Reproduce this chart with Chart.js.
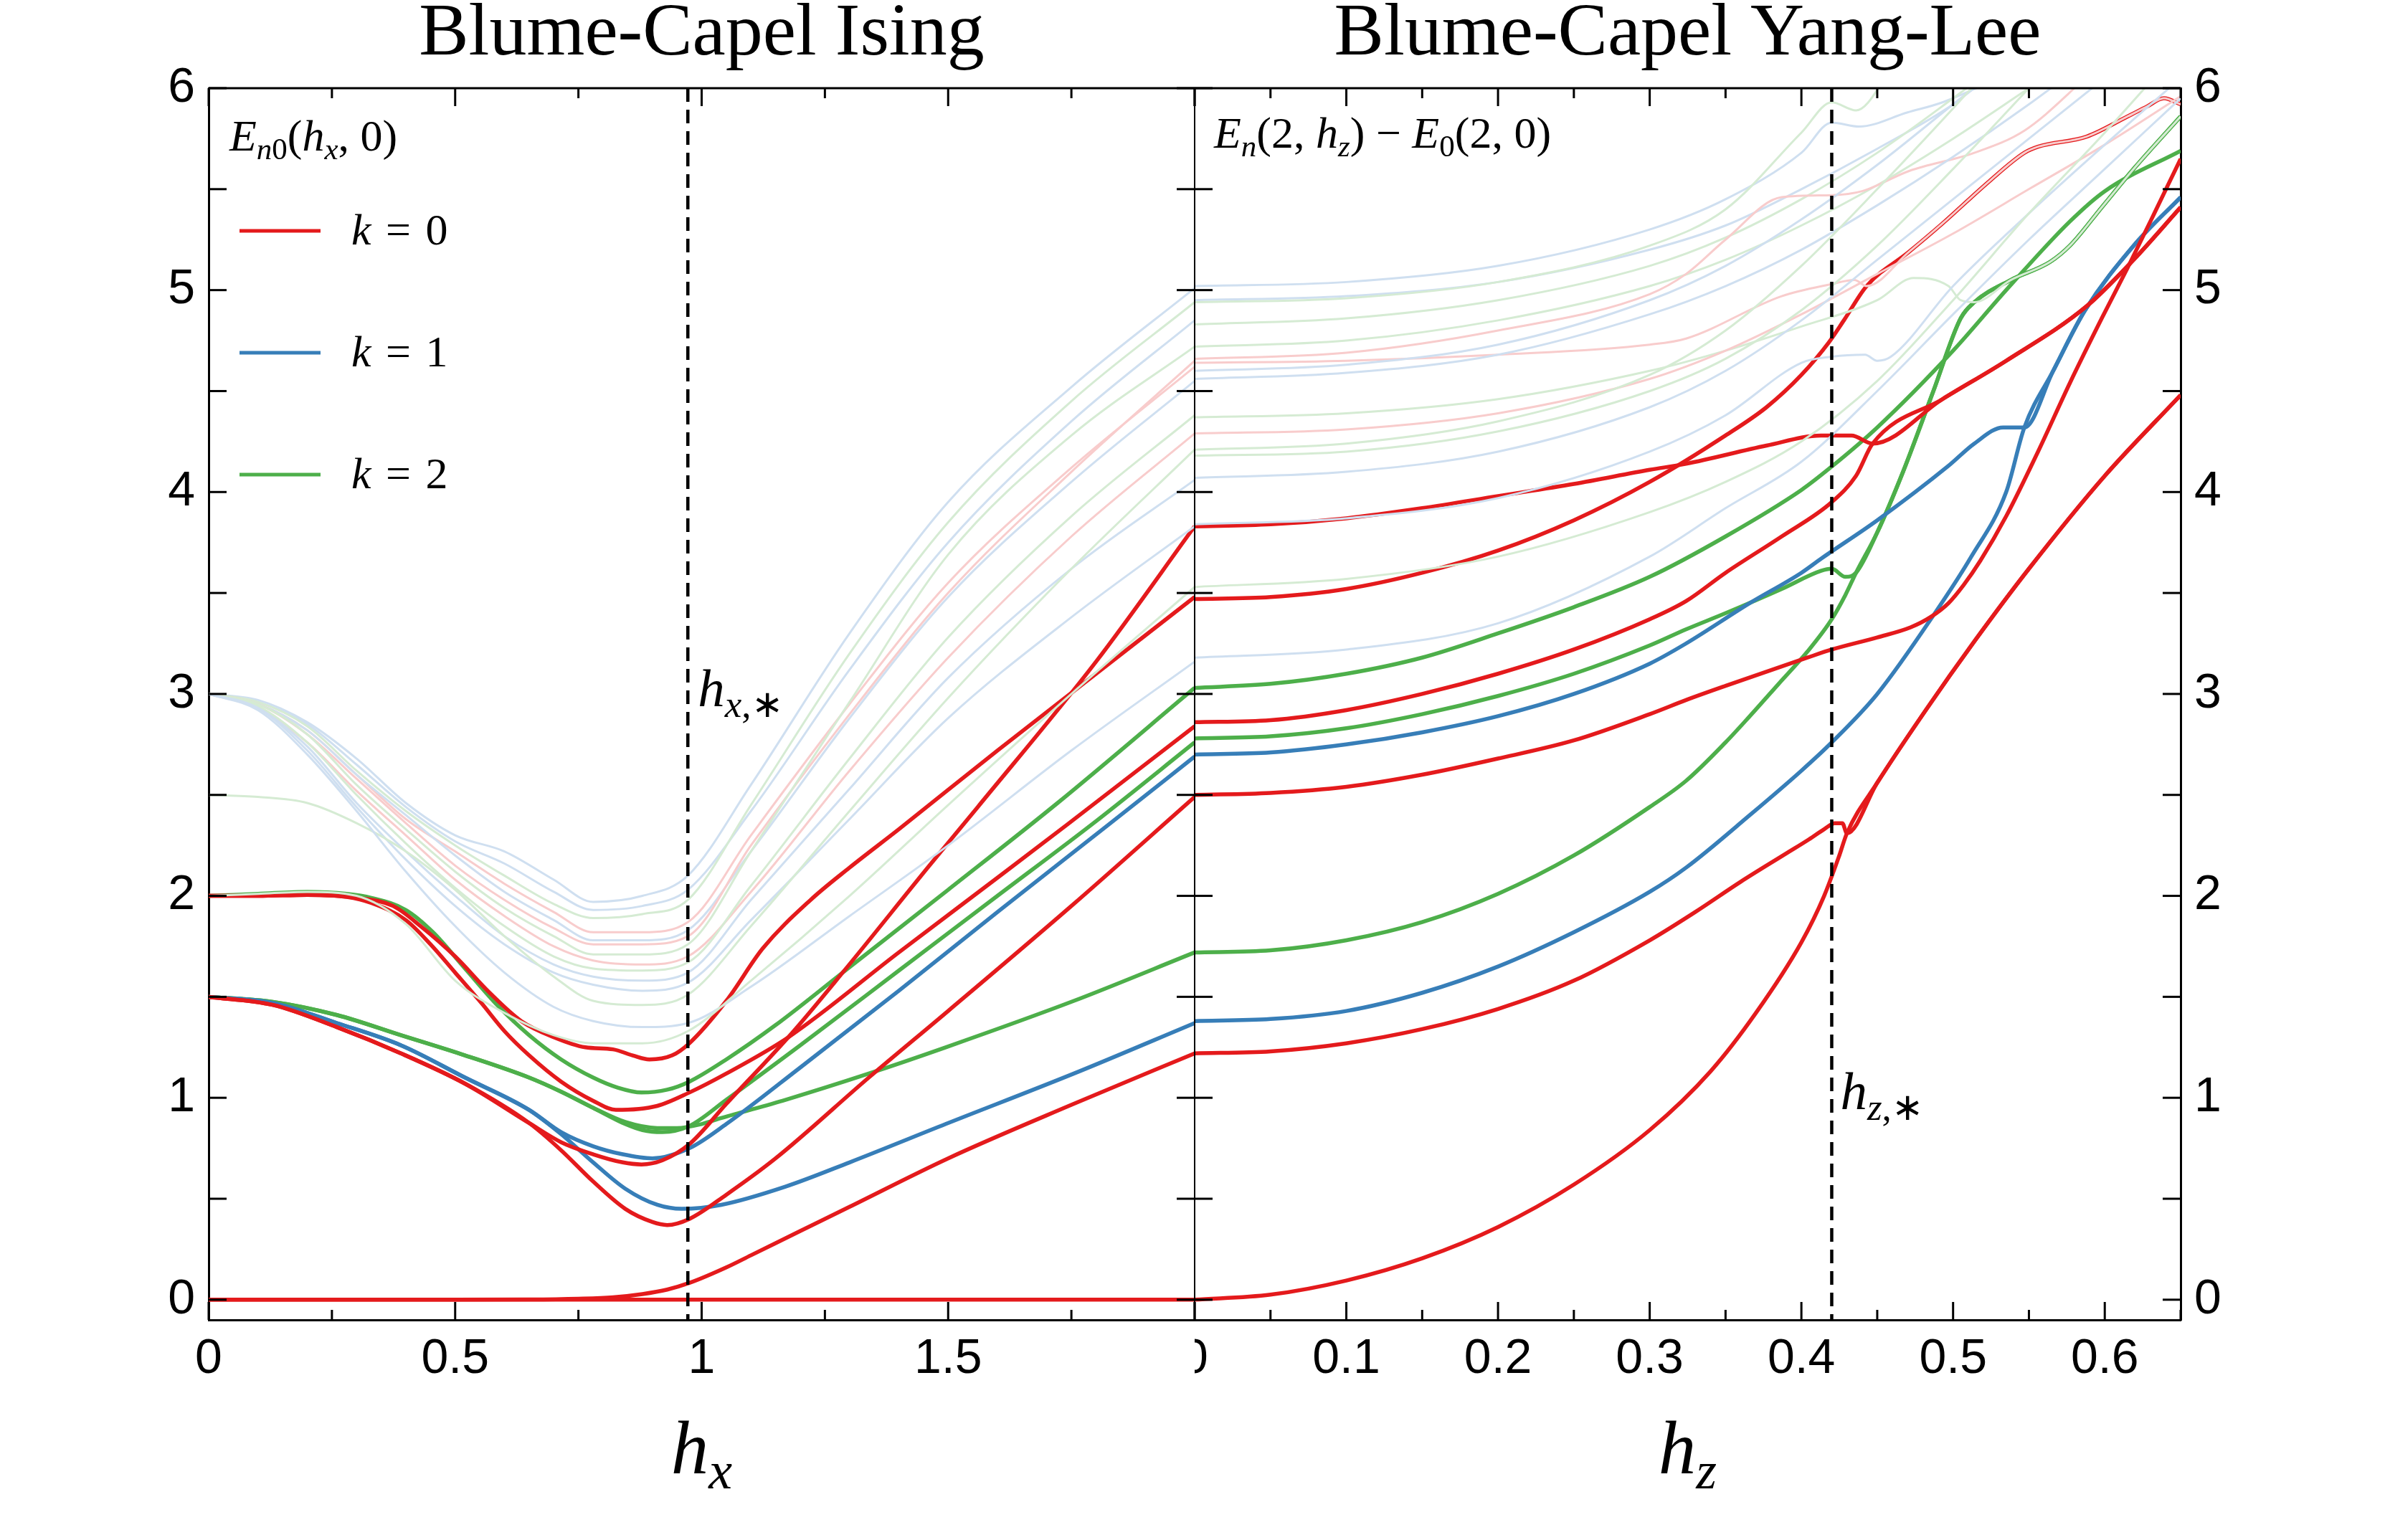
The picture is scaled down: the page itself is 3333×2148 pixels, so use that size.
<!DOCTYPE html>
<html>
<head>
<meta charset="utf-8">
<script src="https://cdn.jsdelivr.net/npm/chart.js@4.4.1/dist/chart.umd.min.js"></script>
<style>
  html, body { margin: 0; padding: 0; background: #fff; }
  canvas { display: block; }
</style>
</head>
<body>
<canvas id="spectrum" width="3333" height="2148"></canvas>
<script>
// critical fields
const hxStar = 0.972;
const hzStar = 0.42;

// ---- Blume-Capel Ising, E_n0(hx, 0): [hx, E] ----
const isingR0 = [[0, 0], [2, 0]];
const isingR1 = [[0,0],[0.5,0],[0.65,0.001],[0.75,0.005],[0.82,0.012],[0.88,0.028],[0.93,0.05],[0.975,0.083],[1.05,0.16],[1.1,0.22],[1.2,0.34],[1.3,0.46],[1.5,0.70],[1.75,0.965],[2,1.22]];
const isingR2 = [[0,1.5],[0.13,1.46],[0.26,1.35],[0.39,1.22],[0.52,1.07],[0.65,0.875],[0.715,0.74],[0.78,0.585],[0.845,0.45],[0.9,0.385],[0.93,0.37],[0.975,0.40],[1.05,0.52],[1.15,0.70],[1.339,1.10],[1.5,1.43],[1.75,1.95],[2,2.49]];
const isingR3 = [[0,2.0],[0.1,2.0],[0.2,2.005],[0.28,1.995],[0.33,1.965],[0.4,1.88],[0.45,1.76],[0.5,1.62],[0.553,1.47],[0.6,1.33],[0.65,1.21],[0.715,1.08],[0.78,0.985],[0.826,0.94],[0.91,0.96],[0.975,1.026],[1.05,1.12],[1.176,1.30],[1.4,1.72],[1.6,2.09],[1.742,2.354],[2,2.84]];
const isingR4 = [[0,2.0],[0.1,2.0],[0.2,2.005],[0.3,1.99],[0.374,1.95],[0.43,1.85],[0.5,1.70],[0.57,1.52],[0.634,1.38],[0.7,1.30],[0.764,1.25],[0.82,1.24],[0.86,1.21],[0.894,1.19],[0.94,1.21],[0.975,1.27],[1.05,1.48],[1.124,1.74],[1.221,1.98],[1.3,2.14],[1.4,2.33],[1.6,2.72],[1.8,3.10],[2,3.48]];
const isingR5 = [[0,1.5],[0.13,1.46],[0.26,1.35],[0.39,1.22],[0.52,1.07],[0.65,0.875],[0.715,0.78],[0.78,0.72],[0.84,0.68],[0.878,0.67],[0.92,0.69],[0.975,0.77],[1.05,0.97],[1.183,1.32],[1.286,1.62],[1.462,2.15],[1.56,2.44],[1.8,3.16],[2,3.83]];
const isingB1 = [[0,1.5],[0.13,1.47],[0.26,1.37],[0.39,1.26],[0.52,1.10],[0.65,0.94],[0.715,0.82],[0.78,0.68],[0.845,0.55],[0.91,0.47],[0.96,0.45],[1.04,0.47],[1.17,0.56],[1.3,0.68],[1.495,0.87],[1.755,1.12],[2,1.37]];
const isingB2 = [[0,1.5],[0.13,1.47],[0.26,1.37],[0.39,1.26],[0.52,1.10],[0.65,0.94],[0.715,0.83],[0.78,0.76],[0.84,0.72],[0.9,0.70],[0.975,0.75],[1.05,0.87],[1.2,1.15],[1.4,1.53],[1.6,1.92],[1.826,2.354],[2,2.69]];
const isingG1 = [[0,1.5],[0.13,1.475],[0.26,1.41],[0.39,1.31],[0.52,1.21],[0.65,1.10],[0.715,1.03],[0.78,0.95],[0.845,0.88],[0.91,0.85],[0.95,0.85],[1.0,0.87],[1.04,0.90],[1.17,0.99],[1.339,1.12],[1.495,1.25],[1.755,1.48],[2,1.72]];
const isingG2 = [[0,1.5],[0.13,1.475],[0.26,1.41],[0.39,1.31],[0.52,1.21],[0.65,1.10],[0.715,1.03],[0.78,0.95],[0.845,0.87],[0.88,0.84],[0.92,0.83],[0.975,0.86],[1.05,0.99],[1.2,1.26],[1.4,1.63],[1.6,2.0],[1.8,2.37],[2,2.76]];
const isingG3 = [[0,2.0],[0.1,2.01],[0.2,2.02],[0.28,2.01],[0.33,1.99],[0.4,1.93],[0.455,1.82],[0.52,1.64],[0.585,1.46],[0.65,1.31],[0.715,1.19],[0.78,1.10],[0.83,1.05],[0.878,1.026],[0.93,1.04],[0.975,1.08],[1.05,1.19],[1.15,1.36],[1.286,1.62],[1.5,2.03],[1.722,2.46],[2,3.03]];

// faint higher levels, sampled on a common hx grid
const isingFaintX = [0, 0.1, 0.2, 0.3, 0.4, 0.5, 0.6, 0.7, 0.78, 0.88, 0.972, 1.1, 1.3, 1.5, 1.75, 2];
const isingF1 = [2.0, 2.01, 2.02, 2.0, 1.86, 1.58, 1.42, 1.31, 1.27, 1.27, 1.33, 1.58, 2.0, 2.45, 3.0, 3.53];
const isingF2 = [3.0, 2.92, 2.70, 2.42, 2.12, 1.85, 1.62, 1.45, 1.38, 1.35, 1.37, 1.55, 1.90, 2.25, 2.72, 3.16];
const isingF3 = [2.5, 2.49, 2.46, 2.36, 2.22, 2.03, 1.80, 1.60, 1.48, 1.46, 1.51, 1.85, 2.42, 2.98, 3.62, 4.21];
const isingF4 = [3.0, 2.93, 2.72, 2.44, 2.18, 1.95, 1.76, 1.62, 1.56, 1.53, 1.57, 1.88, 2.38, 2.88, 3.38, 3.83];
const isingF5 = [3.0, 2.93, 2.74, 2.46, 2.22, 2.0, 1.80, 1.66, 1.60, 1.58, 1.62, 1.98, 2.53, 3.08, 3.62, 4.06];
const isingF6 = [3.0, 2.94, 2.76, 2.50, 2.26, 2.04, 1.85, 1.70, 1.64, 1.63, 1.67, 2.05, 2.68, 3.28, 3.88, 4.38];
const isingF7 = [3.0, 2.93, 2.76, 2.52, 2.30, 2.08, 1.90, 1.75, 1.68, 1.66, 1.70, 2.02, 2.62, 3.18, 3.78, 4.29];
const isingF8 = [3.0, 2.95, 2.80, 2.55, 2.33, 2.12, 1.94, 1.80, 1.71, 1.71, 1.76, 2.22, 2.96, 3.69, 4.28, 4.72];
const isingF9 = [3.0, 2.95, 2.80, 2.58, 2.36, 2.15, 1.98, 1.84, 1.76, 1.76, 1.80, 2.25, 2.90, 3.50, 4.10, 4.65];
const isingF10 = [3.0, 2.95, 2.82, 2.60, 2.40, 2.20, 2.02, 1.88, 1.78, 1.78, 1.83, 2.22, 2.88, 3.48, 4.05, 4.55];
const isingF11 = [3.0, 2.95, 2.82, 2.60, 2.38, 2.22, 2.06, 1.92, 1.82, 1.82, 1.87, 2.30, 2.95, 3.55, 4.12, 4.62];
const isingF12 = [3.0, 2.96, 2.84, 2.62, 2.42, 2.25, 2.10, 1.96, 1.89, 1.91, 1.98, 2.45, 3.20, 3.85, 4.45, 4.94];
const isingF13 = [3.0, 2.96, 2.85, 2.65, 2.44, 2.27, 2.16, 2.02, 1.93, 1.95, 2.03, 2.42, 3.12, 3.75, 4.35, 4.85];
const isingF14 = [3.0, 2.97, 2.86, 2.68, 2.46, 2.30, 2.22, 2.08, 1.97, 2.0, 2.10, 2.55, 3.30, 3.95, 4.52, 5.01];

// ---- Blume-Capel Yang-Lee, E_n(2, hz) - E_0(2, 0): [hz, E] ----
const ylR0 = [[0,0],[0.05,0.025],[0.1,0.095],[0.15,0.205],[0.2,0.36],[0.25,0.57],[0.3,0.84],[0.34,1.13],[0.37,1.42],[0.4,1.77],[0.415,2.0],[0.425,2.2],[0.43,2.31],[0.45,2.56],[0.482,2.92],[0.514,3.26],[0.55,3.62],[0.6,4.08],[0.65,4.48]];
const ylR1 = [[0,1.22],[0.05,1.23],[0.1,1.27],[0.15,1.34],[0.2,1.44],[0.25,1.58],[0.3,1.78],[0.33,1.92],[0.36,2.07],[0.39,2.21],[0.405,2.28],[0.415,2.33],[0.422,2.36],[0.427,2.36],[0.43,2.31],[0.45,2.56],[0.482,2.92],[0.514,3.26],[0.55,3.62],[0.6,4.08],[0.65,4.48]];
const ylR2 = [[0,2.5],[0.05,2.51],[0.1,2.54],[0.15,2.6],[0.2,2.68],[0.25,2.77],[0.3,2.9],[0.324,2.97],[0.35,3.04],[0.404,3.18],[0.42,3.22],[0.45,3.28],[0.472,3.33],[0.485,3.38],[0.497,3.45],[0.507,3.54],[0.518,3.66],[0.535,3.88],[0.556,4.2],[0.577,4.54],[0.598,4.86],[0.615,5.11],[0.632,5.37],[0.65,5.65]];
const ylR3 = [[0,2.86],[0.05,2.87],[0.1,2.92],[0.15,3.0],[0.2,3.1],[0.25,3.22],[0.3,3.37],[0.324,3.46],[0.35,3.6],[0.387,3.78],[0.42,3.95],[0.436,4.08],[0.447,4.24],[0.493,4.46],[0.535,4.65],[0.588,4.92],[0.619,5.15],[0.65,5.41]];
const ylR4 = [[0,3.47],[0.05,3.48],[0.1,3.52],[0.15,3.6],[0.2,3.71],[0.25,3.86],[0.3,4.05],[0.35,4.28],[0.377,4.42],[0.4,4.58],[0.418,4.74],[0.428,4.85],[0.443,5.02],[0.471,5.19],[0.493,5.33],[0.524,5.54],[0.547,5.68],[0.556,5.71],[0.588,5.76],[0.615,5.86],[0.628,5.91],[0.639,5.95],[0.65,5.92]];
const ylR5 = [[0,3.83],[0.05,3.84],[0.1,3.87],[0.15,3.92],[0.2,3.98],[0.25,4.04],[0.3,4.11],[0.324,4.14],[0.377,4.23],[0.413,4.28],[0.433,4.28],[0.447,4.24],[0.493,4.46],[0.535,4.65],[0.588,4.92],[0.619,5.15],[0.65,5.41]];
const ylB1 = [[0,1.38],[0.05,1.39],[0.1,1.43],[0.15,1.52],[0.2,1.65],[0.25,1.82],[0.3,2.02],[0.324,2.14],[0.366,2.40],[0.4,2.62],[0.42,2.76],[0.45,3.0],[0.488,3.40],[0.512,3.68],[0.535,4.0],[0.547,4.32],[0.566,4.6],[0.587,4.9],[0.619,5.22],[0.65,5.46]];
const ylB2 = [[0,2.70],[0.05,2.71],[0.1,2.75],[0.15,2.81],[0.2,2.89],[0.25,3.0],[0.3,3.15],[0.324,3.25],[0.366,3.45],[0.4,3.6],[0.413,3.67],[0.45,3.86],[0.497,4.13],[0.514,4.24],[0.533,4.32],[0.547,4.32],[0.566,4.6],[0.587,4.9],[0.619,5.22],[0.65,5.46]];
const ylG1 = [[0,1.72],[0.05,1.73],[0.1,1.78],[0.15,1.87],[0.2,2.01],[0.25,2.2],[0.3,2.44],[0.324,2.57],[0.35,2.76],[0.366,2.89],[0.385,3.05],[0.404,3.21],[0.42,3.37],[0.429,3.49],[0.436,3.60],[0.45,3.80],[0.467,4.1],[0.487,4.5],[0.505,4.86],[0.514,4.94],[0.538,5.05],[0.564,5.14],[0.577,5.22],[0.598,5.41],[0.619,5.60],[0.65,5.86]];
const ylG2 = [[0,2.78],[0.05,2.79],[0.1,2.83],[0.15,2.9],[0.2,2.99],[0.25,3.1],[0.3,3.24],[0.324,3.32],[0.35,3.40],[0.387,3.52],[0.413,3.61],[0.42,3.62],[0.429,3.58],[0.436,3.60],[0.45,3.80],[0.467,4.1],[0.487,4.5],[0.505,4.86],[0.514,4.94],[0.538,5.05],[0.564,5.14],[0.577,5.22],[0.598,5.41],[0.619,5.60],[0.65,5.86]];
const ylG3 = [[0,3.03],[0.05,3.05],[0.1,3.1],[0.15,3.18],[0.2,3.30],[0.25,3.43],[0.3,3.58],[0.35,3.78],[0.4,4.01],[0.419,4.12],[0.45,4.32],[0.5,4.7],[0.535,5.0],[0.577,5.34],[0.6,5.49],[0.65,5.69]];

const ylF1 = [[0,3.18],[0.1,3.22],[0.2,3.35],[0.3,3.68],[0.35,3.92],[0.4,4.15],[0.45,4.5],[0.5,4.88],[0.55,5.25],[0.6,5.6],[0.65,5.95]];
const ylF2 = [[0,3.53],[0.1,3.57],[0.2,3.68],[0.3,3.9],[0.35,4.05],[0.4,4.25],[0.45,4.55],[0.5,4.95],[0.55,5.38],[0.6,5.78],[0.65,6.2]];
const ylF3 = [[0,3.84],[0.1,3.87],[0.2,3.97],[0.3,4.2],[0.35,4.38],[0.4,4.64],[0.42,4.67],[0.442,4.68],[0.45,4.65],[0.459,4.67],[0.5,5.02],[0.55,5.38],[0.6,5.72],[0.65,6.05]];
const ylF4 = [[0,4.07],[0.1,4.1],[0.2,4.2],[0.3,4.42],[0.35,4.6],[0.4,4.85],[0.45,5.15],[0.5,5.45],[0.55,5.75],[0.6,6.05]];
const ylF5 = [[0,4.18],[0.1,4.2],[0.2,4.3],[0.3,4.5],[0.35,4.66],[0.4,4.9],[0.45,5.22],[0.5,5.6],[0.55,6.0]];
const ylF6 = [[0,4.21],[0.1,4.24],[0.2,4.35],[0.3,4.58],[0.35,4.8],[0.4,5.12],[0.45,5.5],[0.5,5.9],[0.53,6.15]];
const ylF7 = [[0,4.29],[0.1,4.31],[0.2,4.39],[0.3,4.56],[0.35,4.7],[0.4,4.88],[0.45,5.08],[0.5,5.28],[0.55,5.5],[0.6,5.72],[0.65,5.96]];
const ylF8 = [[0,4.37],[0.1,4.39],[0.2,4.46],[0.3,4.6],[0.35,4.7],[0.4,4.82],[0.45,4.95],[0.474,5.06],[0.497,5.02],[0.505,4.95],[0.514,4.94],[0.538,5.05],[0.564,5.14],[0.577,5.22],[0.598,5.41],[0.619,5.60],[0.65,5.86]];
const ylF9 = [[0,4.56],[0.1,4.59],[0.2,4.68],[0.3,4.88],[0.35,5.02],[0.4,5.2],[0.45,5.42],[0.5,5.66],[0.55,5.92],[0.6,6.2]];
const ylF10 = [[0,4.60],[0.1,4.63],[0.2,4.73],[0.3,4.95],[0.35,5.12],[0.4,5.35],[0.45,5.62],[0.5,5.92],[0.53,6.1]];
const ylF11 = [[0,4.64],[0.1,4.65],[0.2,4.68],[0.3,4.73],[0.324,4.76],[0.387,4.97],[0.42,5.03],[0.435,5.05],[0.443,5.02],[0.471,5.19],[0.493,5.33],[0.524,5.54],[0.547,5.68],[0.556,5.71],[0.588,5.76],[0.615,5.86],[0.628,5.91],[0.639,5.95],[0.65,5.92]];
const ylF12 = [[0,4.66],[0.1,4.69],[0.2,4.8],[0.3,4.98],[0.324,5.08],[0.35,5.25],[0.387,5.46],[0.42,5.47],[0.44,5.49],[0.471,5.59],[0.514,5.68],[0.547,5.79],[0.58,6.0],[0.6,6.15]];
const ylF13 = [[0,4.72],[0.1,4.75],[0.2,4.85],[0.3,5.02],[0.35,5.15],[0.4,5.32],[0.45,5.52],[0.5,5.75],[0.55,6.0],[0.6,6.25]];
const ylF14 = [[0,4.83],[0.1,4.86],[0.2,4.95],[0.3,5.12],[0.35,5.26],[0.4,5.45],[0.45,5.68],[0.5,5.95],[0.53,6.12]];
const ylF15 = [[0,4.94],[0.1,4.96],[0.2,5.04],[0.3,5.22],[0.35,5.4],[0.4,5.78],[0.42,5.93],[0.436,5.89],[0.46,6.1]];
const ylF16 = [[0,4.95],[0.1,4.97],[0.2,5.04],[0.3,5.2],[0.35,5.32],[0.4,5.5],[0.45,5.7],[0.5,5.92],[0.53,6.1]];
const ylF17 = [[0,5.02],[0.1,5.04],[0.2,5.12],[0.3,5.3],[0.35,5.45],[0.4,5.68],[0.42,5.83],[0.438,5.81],[0.47,5.88],[0.493,5.93],[0.53,6.05]];

const titles = ['Blume-Capel Ising', 'Blume-Capel Yang-Lee'];
const legendLabels = ['0', '1', '2'];

const RED = '#e41a1c', BLUE = '#377eb8', GREEN = '#4daf4a';
const RED_FAINT = '#f8cccc', BLUE_FAINT = '#cfdff0', GREEN_FAINT = '#d5ebd3';
const SERIF = '"Liberation Serif", "Times New Roman", serif';

const isingBold = [
  [isingR0, RED], [isingR1, RED], [isingR2, RED], [isingR3, RED], [isingR4, RED], [isingR5, RED],
  [isingB1, BLUE], [isingB2, BLUE], [isingG1, GREEN], [isingG2, GREEN], [isingG3, GREEN]
];
const isingFaint = [
  [isingF1, GREEN_FAINT], [isingF2, BLUE_FAINT], [isingF3, GREEN_FAINT], [isingF4, BLUE_FAINT],
  [isingF5, BLUE_FAINT], [isingF6, GREEN_FAINT], [isingF7, RED_FAINT], [isingF8, GREEN_FAINT],
  [isingF9, RED_FAINT], [isingF10, BLUE_FAINT], [isingF11, RED_FAINT], [isingF12, GREEN_FAINT],
  [isingF13, BLUE_FAINT], [isingF14, BLUE_FAINT]
];
const ylBold = [
  [ylR0, RED], [ylR1, RED], [ylR2, RED], [ylR3, RED], [ylR4, RED], [ylR5, RED],
  [ylB1, BLUE], [ylB2, BLUE], [ylG1, GREEN], [ylG2, GREEN], [ylG3, GREEN]
];
const ylFaint = [
  [ylF1, BLUE_FAINT], [ylF2, GREEN_FAINT], [ylF3, BLUE_FAINT], [ylF4, BLUE_FAINT], [ylF5, GREEN_FAINT],
  [ylF6, GREEN_FAINT], [ylF7, RED_FAINT], [ylF8, GREEN_FAINT], [ylF9, BLUE_FAINT], [ylF10, BLUE_FAINT],
  [ylF11, RED_FAINT], [ylF12, RED_FAINT], [ylF13, GREEN_FAINT], [ylF14, GREEN_FAINT], [ylF15, GREEN_FAINT],
  [ylF16, BLUE_FAINT], [ylF17, BLUE_FAINT]
];

function curve(pairs, panel, color, width, order) {
  return {
    data: pairs.map(p => ({ x: p[0], y: p[1] })),
    xAxisID: panel === 'L' ? 'xL' : 'xR',
    yAxisID: panel === 'L' ? 'yL' : 'yR',
    borderColor: color,
    borderWidth: width,
    pointRadius: 0,
    pointHoverRadius: 0,
    fill: false,
    cubicInterpolationMode: 'monotone',
    clip: 0,
    order: order
  };
}

function marker(x, panel) {
  return {
    data: [{ x: x, y: 6 }, { x: x, y: -0.1 }],
    xAxisID: panel === 'L' ? 'xL' : 'xR',
    yAxisID: panel === 'L' ? 'yL' : 'yR',
    borderColor: '#000',
    borderWidth: 4.5,
    borderDash: [19, 11],
    pointRadius: 0,
    tension: 0,
    clip: 0,
    order: 0
  };
}

// lower order is drawn on top: markers, then pale levels, then the bold ones
const datasets = [marker(hxStar, 'L'), marker(hzStar, 'R')];
isingFaint.forEach(([ys, c]) => datasets.push(curve(isingFaintX.map((x, i) => [x, ys[i]]), 'L', c, 3, 1)));
ylFaint.forEach(([pairs, c]) => datasets.push(curve(pairs, 'R', c, 3, 1)));
isingBold.forEach(([pairs, c]) => datasets.push(curve(pairs, 'L', c, 5.5, 2)));
ylBold.forEach(([pairs, c]) => datasets.push(curve(pairs, 'R', c, 5.5, 2)));

const isMultiple = (v, step) => Math.abs(v / step - Math.round(v / step)) < 1e-6;
const tickFont = { family: '"Liberation Sans", Arial, sans-serif', size: 68 };

function xAxis(max, step, labelStep) {
  return {
    type: 'linear', position: 'bottom', stack: 'panels', stackWeight: 1,
    min: 0, max: max,
    ticks: {
      stepSize: step, autoSkip: false, maxRotation: 0, minRotation: 0,
      padding: 14, font: tickFont, color: '#000',
      callback: v => (isMultiple(v, labelStep) && v < max - 1e-9) ? String(Math.round(v * 10) / 10) : ''
    },
    grid: { display: false, drawTicks: false },
    border: { display: true, color: '#000', width: 3 },
    afterFit: s => { s.height = 307; }
  };
}

function yAxis(position, width) {
  return {
    type: 'linear', position: position, min: -0.1, max: 6,
    ticks: {
      stepSize: 0.5, includeBounds: false, autoSkip: false,
      padding: 19, font: tickFont, color: '#000',
      callback: v => (isMultiple(v, 1) && v >= 0) ? String(Math.round(v)) : ''
    },
    grid: { display: false, drawTicks: false },
    border: { display: true, color: '#000', width: 3 },
    afterFit: s => { s.width = width; }
  };
}

// rich text: italic variables, roman digits, subscripts
const I = t => ({ t, it: true });
const R = t => ({ t, it: false });
const SI = t => ({ t, it: true, sub: true });
const SR = t => ({ t, it: false, sub: true });
const GAP = em => ({ t: '', gap: em });

function mathText(ctx, runs, x, y, size, align) {
  const fontOf = r => (r.it ? 'italic ' : '') + Math.round(r.sub ? size * 0.7 : size) + 'px ' + SERIF;
  const widths = runs.map(r => {
    if (r.gap) return r.gap * size;
    ctx.font = fontOf(r);
    return ctx.measureText(r.t).width;
  });
  const total = widths.reduce((a, b) => a + b, 0);
  let cx = align === 'center' ? x - total / 2 : x;
  ctx.textAlign = 'left';
  ctx.textBaseline = 'alphabetic';
  runs.forEach((r, i) => {
    if (!r.gap) {
      ctx.font = fontOf(r);
      ctx.fillText(r.t, cx, y + (r.sub ? size * 0.2 : 0));
    }
    cx += widths[i];
  });
}

function seg(ctx, x0, y0, x1, y1) {
  ctx.beginPath();
  ctx.moveTo(x0, y0);
  ctx.lineTo(x1, y1);
  ctx.stroke();
}

const panelDecor = {
  id: 'panelDecor',
  afterDatasetsDraw(chart) {
    const { ctx, chartArea: a } = chart;
    const { xL, xR, yL, yR } = chart.scales;
    ctx.save();
    ctx.strokeStyle = '#000';
    ctx.lineWidth = 3;
    seg(ctx, a.left, a.top, a.right, a.top);
    ctx.lineWidth = 2;
    seg(ctx, xL.right, a.top, xL.right, a.bottom);

    ctx.lineWidth = 3;
    [[xL, 0.5], [xR, 0.1]].forEach(([sc, major]) => {
      sc.ticks.forEach(t => {
        const px = sc.getPixelForValue(t.value);
        const len = isMultiple(t.value, major) ? 25 : 14;
        seg(ctx, px, a.bottom, px, a.bottom - len);
        seg(ctx, px, a.top, px, a.top + len);
      });
    });
    yL.ticks.forEach(t => {
      if (t.value < 0) return;
      const py = yL.getPixelForValue(t.value);
      seg(ctx, a.left, py, a.left + 25, py);
      seg(ctx, xL.right, py, xL.right - 25, py);
      seg(ctx, xR.left, py, xR.left + 25, py);
    });
    yR.ticks.forEach(t => {
      if (t.value < 0) return;
      const py = yR.getPixelForValue(t.value);
      seg(ctx, a.right, py, a.right - 25, py);
    });
    ctx.restore();
  },
  afterDraw(chart) {
    const { ctx, chartArea: a } = chart;
    const { xL, xR, yL, yR } = chart.scales;
    ctx.save();
    // the right panel's "0" sits under the left panel, only its right half shows
    ctx.fillStyle = '#fff';
    ctx.fillRect(xR.left - 40, a.bottom + 6, 40, 130);

    ctx.fillStyle = '#000';
    ctx.font = '104px ' + SERIF;
    ctx.textAlign = 'center';
    ctx.textBaseline = 'alphabetic';
    ctx.fillText(titles[0], (xL.left + xL.right) / 2, a.top - 47);
    ctx.fillText(titles[1], (xR.left + xR.right) / 2, a.top - 47);

    mathText(ctx, [I('h'), SI('x')], (xL.left + xL.right) / 2, a.bottom + 214, 105, 'center');
    mathText(ctx, [I('h'), SI('z')], (xR.left + xR.right) / 2, a.bottom + 214, 105, 'center');

    mathText(ctx, [I('E'), SI('n'), SR('0'), R('('), I('h'), SI('x'), R(', 0)')], a.left + 29, a.top + 87, 62, 'left');
    mathText(ctx, [I('E'), SI('n'), R('(2, '), I('h'), SI('z'), R(') \u2212 '), I('E'), SR('0'), R('(2, 0)')], xR.left + 27, a.top + 83, 62, 'left');

    mathText(ctx, [I('h'), SI('x'), SR(',\u2217')], xL.getPixelForValue(hxStar) + 14, yL.getPixelForValue(2.94), 75, 'left');
    mathText(ctx, [I('h'), SI('z'), SR(',\u2217')], xR.getPixelForValue(hzStar) + 12, yR.getPixelForValue(0.944), 75, 'left');

    [RED, BLUE, GREEN].forEach((c, i) => {
      const y = a.top + 199 + i * 170;
      ctx.strokeStyle = c;
      ctx.lineWidth = 5;
      seg(ctx, a.left + 43, y, a.left + 156, y);
      ctx.fillStyle = '#000';
      mathText(ctx, [I('k'), GAP(0.33), R('='), GAP(0.33), R(legendLabels[i])], a.left + 199, y + 19, 62, 'left');
    });
    ctx.restore();
  }
};

const spectrumChart = new Chart(document.getElementById('spectrum').getContext('2d'), {
  type: 'line',
  data: { datasets: datasets },
  options: {
    responsive: false,
    devicePixelRatio: 1,
    animation: false,
    events: [],
    layout: { padding: { top: 123, left: 0, right: 0, bottom: 0 } },
    plugins: { legend: { display: false }, tooltip: { enabled: false }, title: { display: false } },
    scales: {
      xL: xAxis(2, 0.25, 0.5),
      xR: xAxis(0.65, 0.05, 0.1),
      yL: yAxis('left', 291),
      yR: yAxis('right', 292)
    }
  },
  plugins: [panelDecor]
});
</script>
</body>
</html>
